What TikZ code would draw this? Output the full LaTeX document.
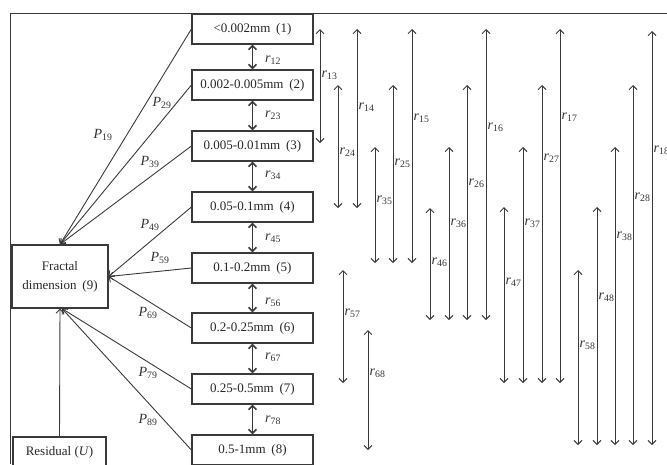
\documentclass[tikz,border=0pt]{standalone}
\usepackage{fontspec}
\setmainfont{Liberation Serif}
\usetikzlibrary{arrows.meta}
\definecolor{ln}{HTML}{3A3A3A}
\newcommand{\lbP}[1]{\textit{P}\textsubscript{#1}}
\newcommand{\lbr}[1]{\textit{r}\textsubscript{#1}}
\begin{document}
\begin{tikzpicture}[x=1pt,y=-1pt,
  box/.style={draw=ln, line width=1.2pt, minimum width=121pt, minimum height=30pt, inner sep=0pt, font=\fontsize{13}{15}\selectfont, text=black!85},
  tipb/.tip={Straight Barb[length=4pt,width=8pt]},
  arr/.style={draw=ln, line width=0.9pt, -tipb},
  darr/.style={draw=ln, line width=0.9pt, tipb-tipb},
  sarr/.style={draw=ln, line width=1.6pt, tipb-tipb},
  lab/.style={font=\fontsize{14}{16}\selectfont, text=black!80, inner sep=0pt}
]
\useasboundingbox (0,0) rectangle (667,464);
% frame
\draw[ln, line width=1pt] (667,13) -- (10,13) -- (10,464);
% boxes
\node[box] (b1) at (252.5,29)  {<0.002mm\hspace{0.45em}(1)};
\node[box] (b2) at (252.5,85)  {0.002-0.005mm\hspace{0.45em}(2)};
\node[box] (b3) at (252.5,146) {0.005-0.01mm\hspace{0.45em}(3)};
\node[box] (b4) at (252.5,207) {0.05-0.1mm\hspace{0.45em}(4)};
\node[box] (b5) at (252.5,268) {0.1-0.2mm\hspace{0.45em}(5)};
\node[box] (b6) at (252.5,328) {0.2-0.25mm\hspace{0.45em}(6)};
\node[box] (b7) at (252.5,389) {0.25-0.5mm\hspace{0.45em}(7)};
\node[box] (b8) at (252.5,450) {0.5-1mm\hspace{0.45em}(8)};
\node[box, minimum width=96pt, minimum height=63pt, align=center, font=\fontsize{13}{19}\selectfont] (f) at (60,276.5) {Fractal\\dimension\hspace{0.45em}(9)};
\node[box, minimum width=93pt] (res) at (59.5,452) {Residual (\textit{U})};
% residual arrow
\draw[arr] (res.north) -- (f.south);
% P arrows
\draw[arr] (b1.west) -- (f.north);
\draw[arr] (b2.west) -- (f.north);
\draw[arr] (b3.west) -- (f.north);
\draw[arr] (b4.west) -- (f.east);
\draw[arr] (b5.west) -- (f.east);
\draw[arr] (b6.west) -- (f.east);
\draw[arr] (b7.west) -- ([xshift=2pt]f.south);
\draw[arr] (b8.west) -- ([xshift=2pt]f.south);
\node[lab] (p19) at (103,135) {\lbP{19}};
\node[lab] (p29) at (162,103) {\lbP{29}};
\node[lab] (p39) at (150,162) {\lbP{39}};
\node[lab] (p49) at (150,225) {\lbP{49}};
\node[lab] (p59) at (160,258) {\lbP{59}};
\node[lab] (p69) at (148,313) {\lbP{69}};
\node[lab] (p79) at (148,373) {\lbP{79}};
\node[lab] (p89) at (148,420) {\lbP{89}};
% adjacent correlations
\draw[sarr] (b1.south) -- (b2.north);
\draw[sarr] (b2.south) -- (b3.north);
\draw[sarr] (b3.south) -- (b4.north);
\draw[sarr] (b4.south) -- (b5.north);
\draw[sarr] (b5.south) -- (b6.north);
\draw[sarr] (b6.south) -- (b7.north);
\draw[sarr] (b7.south) -- (b8.north);
\node[lab, anchor=west] (r12) at (265,60)  {\lbr{12}};
\node[lab, anchor=west] (r23) at (265,115) {\lbr{23}};
\node[lab, anchor=west] (r34) at (265,175) {\lbr{34}};
\node[lab, anchor=west] (r45) at (265,238) {\lbr{45}};
\node[lab, anchor=west] (r56) at (265,302) {\lbr{56}};
\node[lab, anchor=west] (r67) at (265,357) {\lbr{67}};
\node[lab, anchor=west] (r78) at (265,420) {\lbr{78}};
% long correlations
\foreach \n/\x/\t/\u/\ly in {
  13/320/29/143/75, 14/357/29/208/107, 24/338/85/208/152,
  15/412/29/263/118, 25/393/85/263/163, 35/375/147/263/200,
  16/486/29/320/127, 26/467/85/320/183, 36/449/147/320/223, 46/430/208/320/262,
  57/343/270/383/313, 68/368/330/450/373,
  17/560/29/383/117, 27/542/85/383/158, 37/523/147/383/223, 47/504/207/383/282,
  18/652/31/445/150, 28/633/85/445/197, 38/615/147/445/236, 48/597/207/445/297, 58/578/270/445/345}{
  \coordinate (ta\n) at (\x,\t);
  \coordinate (tb\n) at (\x,\u);
  \draw[darr] (ta\n) -- (tb\n);
  \node[lab, anchor=west] (lr\n) at (\x+1.5,\ly) {\lbr{\n}};
}
\end{tikzpicture}
\end{document}
